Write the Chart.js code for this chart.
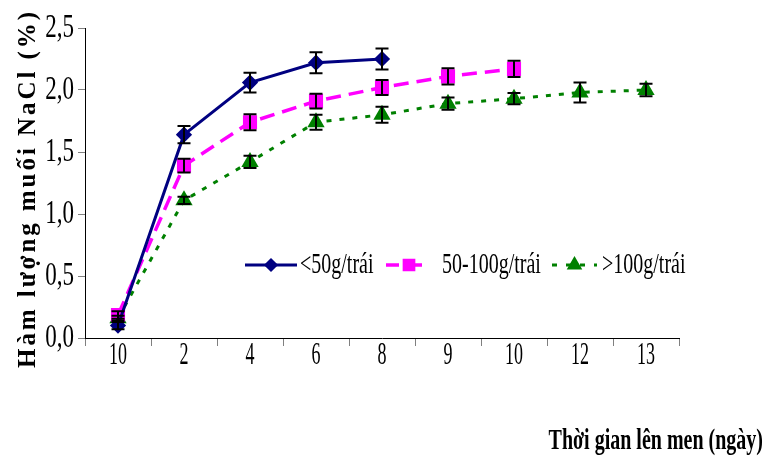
<!DOCTYPE html>
<html>
<head>
<meta charset="utf-8">
<script src="https://cdn.jsdelivr.net/npm/chart.js@4/dist/chart.umd.min.js"></script>
<style>
  html, body { margin: 0; padding: 0; background: #fff; }
  canvas { display: block; }
</style>
</head>
<body>
<canvas id="c" width="764" height="460"></canvas>
<script>
// x categories as printed on the original axis
const days = ['10', '2', '4', '6', '8', '9', '10', '12', '13'];

// salt content (%) per fruit size, with error bar half-widths
const small = [0.10, 1.64, 2.06, 2.22, 2.25, null, null, null, null];
const smallErr = [0.03, 0.07, 0.08, 0.085, 0.085, null, null, null, null];
const medium = [0.185, 1.39, 1.74, 1.91, 2.02, 2.11, 2.17, null, null];
const mediumErr = [0.03, 0.055, 0.065, 0.06, 0.06, 0.065, 0.065, null, null];
const large = [0.16, 1.11, 1.42, 1.74, 1.80, 1.89, 1.93, 1.98, 2.00];
const largeErr = [0.02, 0.03, 0.05, 0.06, 0.065, 0.05, 0.045, 0.08, 0.05];

const yTitle = 'Hàm lượng muối NaCl (%)';
const xTitle = 'Thời gian lên men (ngày)';
const SERIF = '"Liberation Serif", "Times New Roman", serif';

// old Excel look: glyphs are stretched vertically
function stretchText(ctx, txt, x, y, size, sy, align, bold) {
    ctx.save();
    ctx.translate(x, y);
    ctx.scale(1, sy);
    ctx.font = (bold ? 'bold ' : '') + size + 'px ' + SERIF;
    ctx.textAlign = align;
    ctx.textBaseline = 'middle';
    ctx.fillStyle = '#000';
    ctx.fillText(txt, 0, 0);
    ctx.restore();
}

const errorBars = {
    id: 'errorBars',
    afterDatasetsDraw(chart) {
        const ctx = chart.ctx, y = chart.scales.y;
        ctx.save();
        ctx.strokeStyle = '#000';
        ctx.lineWidth = 2;
        chart.data.datasets.forEach((ds, di) => {
            const meta = chart.getDatasetMeta(di);
            ds.errors.forEach((e, i) => {
                const v = ds.data[i];
                if (v == null || e == null) return;
                const px = meta.data[i].x;
                const top = y.getPixelForValue(v + e), bot = y.getPixelForValue(v - e);
                ctx.beginPath();
                ctx.moveTo(px, top); ctx.lineTo(px, bot);
                ctx.moveTo(px - 6.5, top); ctx.lineTo(px + 6.5, top);
                ctx.moveTo(px - 6.5, bot); ctx.lineTo(px + 6.5, bot);
                ctx.stroke();
            });
        });
        ctx.restore();
    }
};

const textLayer = {
    id: 'textLayer',
    afterDraw(chart) {
        const ctx = chart.ctx;
        const xs = chart.scales.x, ys = chart.scales.y;

        ys.ticks.forEach((t, i) => stretchText(ctx, t.label, 74, ys.getPixelForTick(i), 23, 1.45, 'right'));
        xs.ticks.forEach((t, i) => stretchText(ctx, t.label, xs.getPixelForTick(i), 356, 18, 1.75, 'center'));

        // rotated, letter-spaced y title
        ctx.save();
        ctx.translate(35, 368);
        ctx.rotate(-Math.PI / 2);
        ctx.font = 'bold 25px ' + SERIF;
        ctx.fillStyle = '#000';
        ctx.textBaseline = 'alphabetic';
        ctx.textAlign = 'left';
        const chars = Array.from(yTitle);
        const natural = chars.reduce((s, ch) => s + ctx.measureText(ch).width, 0);
        const gap = (356 - natural) / (chars.length - 1);
        let cx = 0;
        chars.forEach(ch => { ctx.fillText(ch, cx, 0); cx += ctx.measureText(ch).width + gap; });
        ctx.restore();

        stretchText(ctx, xTitle, 763, 442, 20, 1.45, 'right', true);

        // legend inside the plot
        const slots = [[245, 297, 300], [386, 432, 442], [552, 597, 602]];
        chart.data.datasets.forEach((ds, i) => {
            const [x0, x1, tx] = slots[i];
            const ly = 265;
            ctx.save();
            ctx.strokeStyle = ds.borderColor;
            ctx.fillStyle = ds.backgroundColor;
            ctx.lineWidth = ds.borderWidth;
            ctx.setLineDash(ds.legendDash);
            ctx.beginPath();
            ctx.moveTo(x0, ly); ctx.lineTo(x1, ly);
            ctx.stroke();
            ctx.setLineDash([]);
            Chart.helpers.drawPoint(ctx, {
                pointStyle: ds.pointStyle, radius: ds.pointRadius - 1, rotation: 0, borderWidth: 1
            }, (x0 + x1) / 2, ly);
            ctx.restore();
            stretchText(ctx, ds.label, tx, ly, 20, 1.45, 'left');
        });
    }
};

new Chart(document.getElementById('c'), {
    type: 'line',
    data: {
        labels: days,
        datasets: [{
            label: '<50g/trái',
            data: small,
            errors: smallErr,
            borderColor: '#000080',
            backgroundColor: '#000080',
            borderWidth: 3,
            pointStyle: 'rectRot',
            pointRadius: 6,
            legendDash: []
        }, {
            label: '50-100g/trái',
            data: medium,
            errors: mediumErr,
            borderColor: '#FF00FF',
            backgroundColor: '#FF00FF',
            borderWidth: 3.5,
            borderDash: [15, 8],
            pointStyle: 'rect',
            pointRadius: 7.5,
            legendDash: [13, 10]
        }, {
            label: '>100g/trái',
            data: large,
            errors: largeErr,
            borderColor: '#008000',
            backgroundColor: '#008000',
            borderWidth: 3,
            borderDash: [5, 8],
            pointStyle: 'triangle',
            pointRadius: 7,
            legendDash: [5, 9]
        }]
    },
    options: {
        responsive: false,
        animation: false,
        layout: { padding: { top: 28, right: 85, left: 0, bottom: 0 } },
        elements: { line: { tension: 0 }, point: { borderWidth: 1 } },
        scales: {
            x: {
                offset: true,
                grid: { offset: true, drawOnChartArea: false, tickLength: 8, color: '#808080' },
                border: { color: '#000', width: 1 },
                ticks: { display: false },
                afterFit: s => { s.height = 122; }
            },
            y: {
                min: 0, max: 2.5,
                ticks: { display: false, stepSize: 0.5, callback: v => v.toFixed(1).replace('.', ',') },
                grid: { drawOnChartArea: false, tickLength: 7, color: '#808080' },
                border: { color: '#000', width: 1 },
                afterFit: s => { s.width = 85; }
            }
        },
        plugins: {
            legend: { display: false },
            tooltip: { enabled: false }
        }
    },
    plugins: [errorBars, textLayer]
});
</script>
</body>
</html>
